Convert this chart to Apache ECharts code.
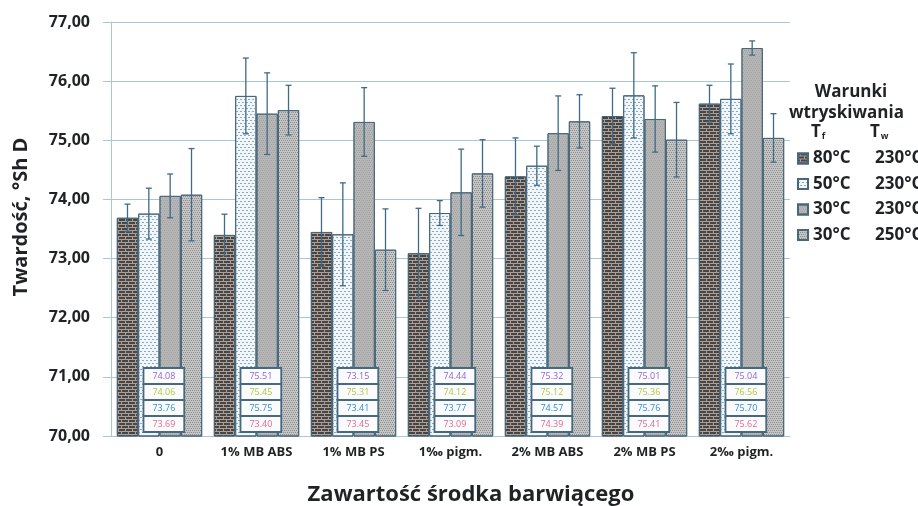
<!DOCTYPE html>
<html>
<head>
<meta charset="utf-8">
<script src="https://cdn.jsdelivr.net/npm/echarts@6/dist/echarts.min.js"></script>
<style>
  html, body { margin: 0; padding: 0; background: #ffffff; }
  #chart { width: 918px; height: 506px; }
</style>
</head>
<body>
<div id="chart"></div>
<script>
// Colourant content groups
const categories = ['0', '1% MB ABS', '1% MB PS', '1‰ pigm.', '2% MB ABS', '2% MB PS', '2‰ pigm.'];

// Injection conditions: mould temperature (Tf) and melt temperature (Tw)
const mouldTemps = ['80°C', '50°C', '30°C', '30°C'];
const meltTemps  = ['230°C', '230°C', '230°C', '250°C'];

// Mean hardness, °Sh D
const hard80_230 = [73.69, 73.40, 73.45, 73.09, 74.39, 75.41, 75.62];
const hard50_230 = [73.76, 75.75, 73.41, 73.77, 74.57, 75.76, 75.70];
const hard30_230 = [74.06, 75.45, 75.31, 74.12, 75.12, 75.36, 76.56];
const hard30_250 = [74.08, 75.51, 73.15, 74.44, 75.32, 75.01, 75.04];

// Standard deviations
const sd80_230 = [0.23, 0.35, 0.58, 0.76, 0.65, 0.47, 0.31];
const sd50_230 = [0.43, 0.64, 0.87, 0.21, 0.33, 0.72, 0.59];
const sd30_230 = [0.37, 0.69, 0.58, 0.73, 0.63, 0.56, 0.12];
const sd30_250 = [0.78, 0.42, 0.69, 0.57, 0.45, 0.63, 0.41];

// Value axis ticks
const yMin = 70, yMax = 77, yStep = 1;

const means = [hard80_230, hard50_230, hard30_230, hard30_250];
const sds = [sd80_230, sd50_230, sd30_230, sd30_250];
const names = mouldTemps.map((t, i) => t + ' / ' + meltTemps[i]);

const CAT_GAP = 0.12;
const FONT = '"Open Sans", "Noto Sans", sans-serif';
const INK = '#1f2326';
const EDGE = '#47677b';
const GRID_COLOR = '#a9c7da';

// Fill textures for the four injection conditions
const fills = [
  { color: '#b89c8a', decal: { symbol: 'rect', symbolSize: 1, color: '#3f474f',
      dashArrayX: [[6, 1], [2, 1, 4, 0]], dashArrayY: [2, 1] } },
  { color: '#f3f6f8', decal: { symbol: 'rect', symbolSize: 1, color: '#86aac4',
      dashArrayX: [[2, 2], [0, 2, 2, 0]], dashArrayY: [1, 2] } },
  { color: '#b6b6b6', decal: { symbol: 'rect', symbolSize: 1, color: '#a2a2a2',
      dashArrayX: [[1, 1], [0, 1, 1, 0]], dashArrayY: [1, 1] } },
  { color: '#c4c4c4', decal: { symbol: 'rect', symbolSize: 1, color: '#8e8e8e',
      dashArrayX: [[1, 1], [0, 1, 1, 0]], dashArrayY: [1, 1] } }
];

const barSeries = means.map((vals, k) => ({
  type: 'bar',
  name: names[k],
  data: vals,
  barGap: '0%',
  barCategoryGap: (CAT_GAP * 100) + '%',
  itemStyle: { color: fills[k].color, decal: fills[k].decal, borderColor: EDGE, borderWidth: 1 },
  z: 2
}));

// Error bars drawn on top of each bar
const errorSeries = means.map((vals, k) => ({
  type: 'custom',
  name: 'sd-' + k,
  z: 5,
  silent: true,
  encode: { x: 0, y: 1 },
  data: vals.map((v, i) => [i, v, sds[k][i]]),
  renderItem(params, api) {
    const i = api.value(0), v = api.value(1), e = api.value(2);
    const band = api.size([1, 0])[0];
    const bw = band * (1 - CAT_GAP) / 4;
    const x = api.coord([i, v])[0] - band * (1 - CAT_GAP) / 2 + bw * (k + 0.5);
    const yt = api.coord([i, v + e])[1];
    const yb = api.coord([i, v - e])[1];
    const st = { stroke: '#3f6a86', lineWidth: 1.3 };
    const cap = 3;
    return {
      type: 'group',
      children: [
        { type: 'line', shape: { x1: x, y1: yt, x2: x, y2: yb }, style: st },
        { type: 'line', shape: { x1: x - cap, y1: yt, x2: x + cap, y2: yt }, style: st },
        { type: 'line', shape: { x1: x - cap, y1: yb, x2: x + cap, y2: yb }, style: st }
      ]
    };
  }
}));

// Small value tables at the foot of each group (top row = 30/250, bottom row = 80/230)
const tableColors = ['#9166d6', '#b3c93d', '#2e8fd2', '#e46a8c'];
const tableOrder = [3, 2, 1, 0];
const tableSeries = {
  type: 'custom',
  name: 'values',
  z: 8,
  silent: true,
  encode: { x: 0, y: 1 },
  data: categories.map((c, i) => [i, yMin]),
  renderItem(params, api) {
    const i = api.value(0);
    const band = api.size([1, 0])[0];
    const base = api.coord([i, yMin]);
    const w = band * 0.42;
    const cx = base[0] + band * 0.045;
    const rowH = 16;
    const bottom = base[1] - 4;
    const children = [];
    tableOrder.forEach((k, r) => {
      const y = bottom - rowH * (4 - r);
      children.push({
        type: 'rect',
        shape: { x: cx - w / 2, y: y, width: w, height: rowH },
        style: { fill: '#fbfbfd', stroke: '#456a80', lineWidth: 1.8 }
      });
      children.push({
        type: 'text',
        style: {
          x: cx, y: y + rowH / 2,
          text: means[k][i].toFixed(2),
          fill: tableColors[r],
          font: '9px ' + FONT,
          align: 'center', verticalAlign: 'middle'
        }
      });
    });
    return { type: 'group', children };
  }
};

const subT = (sub) => ({
  text: '{t|T}{s|' + sub + '}',
  rich: {
    t: { font: 'bold 17px ' + FONT, fill: INK },
    s: { font: 'bold 9px ' + FONT, fill: INK, padding: [8, 0, 0, 1] }
  }
});

const chart = echarts.init(document.getElementById('chart'), null, { renderer: 'canvas' });

chart.setOption({
  backgroundColor: '#ffffff',
  animation: false,
  aria: { enabled: false, decal: { show: false } },
  grid: { left: 111, right: 128, top: 22, bottom: 70, containLabel: false },
  xAxis: {
    type: 'category',
    data: categories,
    axisLine: { show: true, lineStyle: { color: GRID_COLOR } },
    axisTick: { show: false },
    axisLabel: { interval: 0, hideOverlap: false, color: INK, fontFamily: FONT, fontWeight: 'bold', fontSize: 13, margin: 10 }
  },
  yAxis: {
    type: 'value',
    min: yMin, max: yMax, interval: yStep,
    axisLine: { show: true, lineStyle: { color: GRID_COLOR } },
    axisTick: { show: true, length: 8, lineStyle: { color: GRID_COLOR } },
    splitLine: { lineStyle: { color: GRID_COLOR, width: 1.2 } },
    axisLabel: {
      color: INK, fontFamily: FONT, fontWeight: 'bold', fontSize: 16, margin: 21,
      formatter: v => v.toFixed(2).replace('.', ',')
    }
  },
  legend: {
    data: names,
    orient: 'vertical',
    left: 792,
    top: 145,
    itemWidth: 10,
    itemHeight: 10,
    itemGap: 8.5,
    icon: 'rect',
    formatter: n => {
      const k = names.indexOf(n);
      return '{a|' + mouldTemps[k] + '}{b|' + meltTemps[k] + '}';
    },
    textStyle: {
      color: INK,
      rich: {
        a: { fontFamily: FONT, fontWeight: 'bold', fontSize: 17, width: 62, lineHeight: 20, color: INK },
        b: { fontFamily: FONT, fontWeight: 'bold', fontSize: 17, lineHeight: 20, color: INK }
      }
    }
  },
  graphic: [
    { type: 'text', x: 851, y: 92,
      style: { text: 'Warunki', font: 'bold 17px ' + FONT, fill: INK, align: 'center', verticalAlign: 'middle' } },
    { type: 'text', x: 789, y: 113,
      style: { text: 'wtryskiwania', font: 'bold 17px ' + FONT, fill: INK, align: 'left', verticalAlign: 'middle' } },
    { type: 'text', left: 811, top: 124, style: subT('f') },
    { type: 'text', left: 870, top: 124, style: subT('w') },
    { type: 'text', x: 21, y: 217, rotation: Math.PI / 2,
      style: { text: 'Twardość, °Sh D', font: 'bold 20px ' + FONT, fill: INK, align: 'center', verticalAlign: 'middle' } },
    { type: 'text', x: 471, y: 495,
      style: { text: 'Zawartość środka barwiącego', font: 'bold 22px ' + FONT, fill: INK, align: 'center', verticalAlign: 'middle' } }
  ],
  series: [...barSeries, ...errorSeries, tableSeries]
});
</script>
</body>
</html>
